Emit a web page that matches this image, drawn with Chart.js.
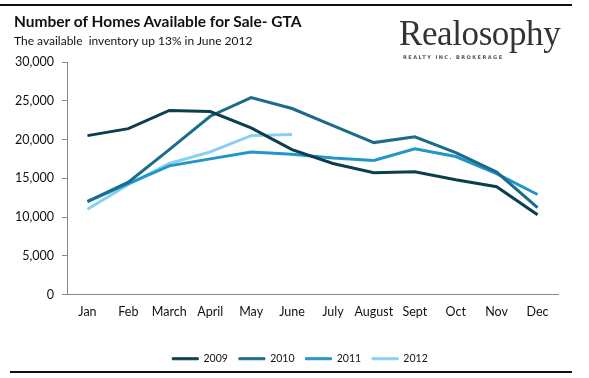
<!DOCTYPE html>
<html>
<head>
<meta charset="utf-8">
<script src="https://cdn.jsdelivr.net/npm/chart.js@4.4.0/dist/chart.umd.min.js"></script>
<style>
  html, body { margin: 0; padding: 0; background: #fff; }
  #wrap { position: relative; width: 589px; height: 378px; overflow: hidden; }
  #c { position: absolute; left: 0; top: 0; }
  .rule { position: absolute; height: 2px; background: #111; }
  #title { position: absolute; left: 14px; top: 12px; font-family: Lato, sans-serif; font-weight: bold; font-size: 15.5px; color: #111; white-space: pre; }
  #sub { position: absolute; left: 14px; top: 33px; font-family: Lato, sans-serif; font-size: 12px; color: #111; white-space: pre; }
  #logo { position: absolute; left: 399px; top: 14px; font-family: "Liberation Serif", serif; font-size: 35px; color: #333; letter-spacing: -0.4px; }
  #logosub { position: absolute; left: 403px; top: 54px; font-family: "DejaVu Sans", sans-serif; font-weight: bold; font-size: 5px; color: #555; letter-spacing: 1.45px; white-space: pre; }
</style>
</head>
<body>
<div id="wrap">
  <canvas id="c" width="589" height="378"></canvas>
  <div class="rule" style="left:0;top:4px;width:572px;"></div>
  <div class="rule" style="left:10px;top:371px;width:562px;"></div>
  <div id="title">Number of Homes Available for Sale- GTA</div>
  <div id="sub">The available  inventory up 13% in June 2012</div>
  <div id="logo">Realosophy</div>
  <div id="logosub">REALTY INC. BROKERAGE</div>
</div>
<script>
const months = ["Jan","Feb","March","April","May","June","July","August","Sept","Oct","Nov","Dec"];
const seriesNames = ["2009","2010","2011","2012"];
const v2009 = [20500, 21400, 23750, 23600, 21500, 18700, 16900, 15700, 15850, 14800, 13900, 10300];
const v2010 = [12000, 14500, 18700, 23000, 25400, 24000, 21800, 19600, 20350, 18300, 15800, 11200];
const v2011 = [12000, 14300, 16600, 17500, 18400, 18100, 17600, 17300, 18800, 17800, 15600, 12900];
const v2012 = [11000, 14200, 16900, 18400, 20500, 20650];
const yTicks = [0, 5000, 10000, 15000, 20000, 25000, 30000];

const colors = ["#0c3e4e", "#1a6c88", "#2196c9", "#88d0f0"];
const values = [v2009, v2010, v2011, v2012];

const datasets = seriesNames.map((n, i) => ({
  label: n,
  data: values[i],
  borderColor: colors[i],
  backgroundColor: colors[i],
  borderWidth: 3,
  pointRadius: 0,
  tension: 0,
  fill: false
}));

new Chart(document.getElementById('c'), {
  type: 'line',
  data: { labels: months, datasets: datasets },
  options: {
    responsive: false,
    animation: false,
    devicePixelRatio: 1,
    layout: { padding: { top: 62, left: 11, right: 0, bottom: 4 } },
    plugins: {
      legend: {
        position: 'bottom',
        labels: {
          boxWidth: 26,
          boxHeight: 2,
          padding: 11,
          color: '#111',
          font: { family: 'Lato, sans-serif', size: 10.5 },
          generateLabels: (chart) => Chart.defaults.plugins.legend.labels.generateLabels(chart).map(l => Object.assign(l, { lineWidth: 1 }))
        }
      },
      tooltip: { enabled: false },
      title: { display: false }
    },
    scales: {
      x: {
        offset: true,
        grid: { display: false, drawTicks: false },
        border: { display: true, color: '#888', width: 1 },
        ticks: { color: '#111', padding: 10, maxRotation: 0, autoSkip: false, font: { family: 'Lato, sans-serif', size: 12.5 } },
        afterFit: (s) => { s.height = 48; }
      },
      y: {
        min: 0, max: 30000,
        afterBuildTicks: (s) => { s.ticks = yTicks.map(v => ({ value: v })); },
        grid: { drawOnChartArea: false, drawTicks: true, tickLength: 5, color: '#888' },
        border: { display: true, color: '#888', width: 1 },
        ticks: {
          color: '#111', padding: 8,
          font: { family: 'Lato, sans-serif', size: 12.5 },
          callback: (v) => v.toLocaleString('en-US')
        },
        afterFit: (s) => { s.width = 56; }
      },
      yRight: {
        position: 'right',
        display: true,
        grid: { display: false, drawTicks: false },
        border: { display: false },
        ticks: { display: false },
        afterFit: (s) => { s.width = 31; }
      }
    }
  }
});
</script>
</body>
</html>
